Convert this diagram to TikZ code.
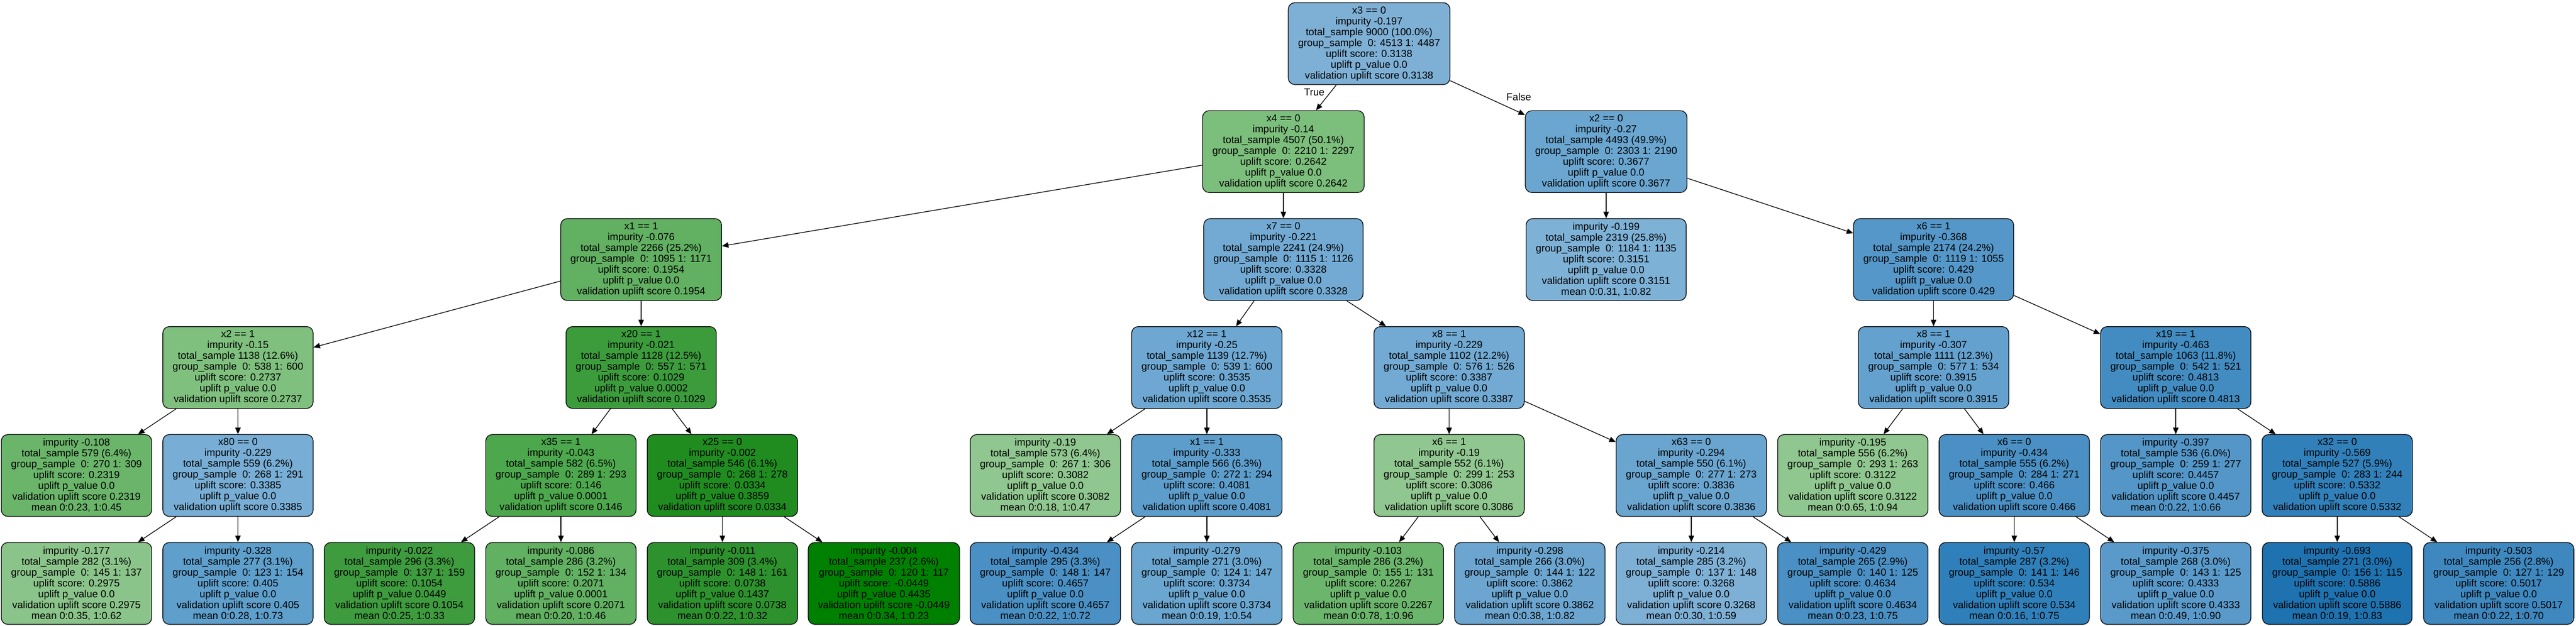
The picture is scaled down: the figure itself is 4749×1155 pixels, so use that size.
\documentclass[tikz,border=0pt]{standalone}
\usepackage{fontspec}
\setmainfont{Liberation Sans}
\usetikzlibrary{arrows.meta}
\newcommand{\itx}[7]{#1\\impurity #2\\total\_sample #3\\group\_sample\ \ 0: #4 1: #5\\uplift score: #6\\uplift p\_value #7\\validation uplift score #6}
\newcommand{\ltx}[7]{impurity #1\\total\_sample #2\\group\_sample\ \ 0: #3 1: #4\\uplift score: #5\\uplift p\_value #6\\validation uplift score #5\\mean #7}
\definecolor{c-r}{HTML}{7EB0D5}
\definecolor{c-x4}{HTML}{7CBE7B}
\definecolor{c-x2a}{HTML}{6AA6D0}
\definecolor{c-x1a}{HTML}{62B062}
\definecolor{c-x7}{HTML}{72AAD3}
\definecolor{c-l199}{HTML}{7EB1D6}
\definecolor{c-x6a}{HTML}{5597C8}
\definecolor{c-x2b}{HTML}{7FC07E}
\definecolor{c-x20}{HTML}{3C9C3C}
\definecolor{c-x12}{HTML}{6EA8D2}
\definecolor{c-x8a}{HTML}{72AAD3}
\definecolor{c-x8b}{HTML}{64A1CE}
\definecolor{c-x19}{HTML}{438CC1}
\definecolor{c-l108}{HTML}{6BB56B}
\definecolor{c-x80}{HTML}{78AED5}
\definecolor{c-x35}{HTML}{4DA84D}
\definecolor{c-x25}{HTML}{208C20}
\definecolor{c-l19}{HTML}{90C68F}
\definecolor{c-x1b}{HTML}{5D9DCB}
\definecolor{c-x6b}{HTML}{90C68F}
\definecolor{c-x63}{HTML}{6AA5D0}
\definecolor{c-l195}{HTML}{90C68F}
\definecolor{c-x6c}{HTML}{4A90C4}
\definecolor{c-l397}{HTML}{5496C7}
\definecolor{c-x32}{HTML}{3180BA}
\definecolor{c-l177}{HTML}{8BC48A}
\definecolor{c-l328}{HTML}{5E9FCC}
\definecolor{c-l022}{HTML}{3E9B3E}
\definecolor{c-l086}{HTML}{62B062}
\definecolor{c-l011}{HTML}{2D922D}
\definecolor{c-l004}{HTML}{008000}
\definecolor{c-l434}{HTML}{4A90C4}
\definecolor{c-l279}{HTML}{6AA6D0}
\definecolor{c-l103}{HTML}{6CB56C}
\definecolor{c-l298}{HTML}{6CA6D0}
\definecolor{c-l214}{HTML}{7EB0D6}
\definecolor{c-l429}{HTML}{4A90C4}
\definecolor{c-l57}{HTML}{2F80BA}
\definecolor{c-l375}{HTML}{5A9ACB}
\definecolor{c-l693}{HTML}{1E72B0}
\definecolor{c-l503}{HTML}{3E88BF}
\begin{document}
\begin{tikzpicture}[x=1pt,y=-1pt,
  box/.style={draw=black, line width=1.3pt, rounded corners=12pt, align=center,
    inner xsep=18pt, inner ysep=0pt, minimum height=151pt,
    font=\fontsize{18.67}{20}\selectfont},
  edge/.style={draw=black, line width=1.3pt, -{Triangle[length=12pt,width=10pt]}},
  lbl/.style={font=\fontsize{18.67}{20}\selectfont, inner sep=0pt}]
\useasboundingbox[fill=white] (0,0) rectangle (4749,1155);
% level 0
\node[box, fill=c-r] (r) at (2524,80.5) {\itx{x3 == 0}{-0.197}{9000 (100.0\%)}{4513}{4487}{0.3138}{0.0}};
% level 1
\node[box, fill=c-x4] (x4) at (2366,279.7) {\itx{x4 == 0}{-0.14}{4507 (50.1\%)}{2210}{2297}{0.2642}{0.0}};
\node[box, fill=c-x2a] (x2a) at (2961,279.7) {\itx{x2 == 0}{-0.27}{4493 (49.9\%)}{2303}{2190}{0.3677}{0.0}};
% level 2
\node[box, fill=c-x1a] (x1a) at (1182,478.9) {\itx{x1 == 1}{-0.076}{2266 (25.2\%)}{1095}{1171}{0.1954}{0.0}};
\node[box, fill=c-x7] (x7) at (2366,478.9) {\itx{x7 == 0}{-0.221}{2241 (24.9\%)}{1115}{1126}{0.3328}{0.0}};
\node[box, fill=c-l199] (l199) at (2961,478.9) {\ltx{-0.199}{2319 (25.8\%)}{1184}{1135}{0.3151}{0.0}{0:0.31, 1:0.82}};
\node[box, fill=c-x6a] (x6a) at (3564.6,478.9) {\itx{x6 == 1}{-0.368}{2174 (24.2\%)}{1119}{1055}{0.429}{0.0}};
% level 3
\node[box, fill=c-x2b] (x2b) at (438.7,678.1) {\itx{x2 == 1}{-0.15}{1138 (12.6\%)}{538}{600}{0.2737}{0.0}};
\node[box, fill=c-x20] (x20) at (1182,678.1) {\itx{x20 == 1}{-0.021}{1128 (12.5\%)}{557}{571}{0.1029}{0.0002}};
\node[box, fill=c-x12] (x12) at (2224.9,678.1) {\itx{x12 == 1}{-0.25}{1139 (12.7\%)}{539}{600}{0.3535}{0.0}};
\node[box, fill=c-x8a] (x8a) at (2671.5,678.1) {\itx{x8 == 1}{-0.229}{1102 (12.2\%)}{576}{526}{0.3387}{0.0}};
\node[box, fill=c-x8b] (x8b) at (3564.6,678.1) {\itx{x8 == 1}{-0.307}{1111 (12.3\%)}{577}{534}{0.3915}{0.0}};
\node[box, fill=c-x19] (x19) at (4011.1,678.1) {\itx{x19 == 1}{-0.463}{1063 (11.8\%)}{542}{521}{0.4813}{0.0}};
% level 4
\node[box, fill=c-l108] (l108) at (141,877.3) {\ltx{-0.108}{579 (6.4\%)}{270}{309}{0.2319}{0.0}{0:0.23, 1:0.45}};
\node[box, fill=c-x80] (x80) at (438.7,877.3) {\itx{x80 == 0}{-0.229}{559 (6.2\%)}{268}{291}{0.3385}{0.0}};
\node[box, fill=c-x35] (x35) at (1034.1,877.3) {\itx{x35 == 1}{-0.043}{582 (6.5\%)}{289}{293}{0.146}{0.0001}};
\node[box, fill=c-x25] (x25) at (1331.8,877.3) {\itx{x25 == 0}{-0.002}{546 (6.1\%)}{268}{278}{0.0334}{0.3859}};
\node[box, fill=c-l19] (l19) at (1927.2,877.3) {\ltx{-0.19}{573 (6.4\%)}{267}{306}{0.3082}{0.0}{0:0.18, 1:0.47}};
\node[box, fill=c-x1b] (x1b) at (2224.9,877.3) {\itx{x1 == 1}{-0.333}{566 (6.3\%)}{272}{294}{0.4081}{0.0}};
\node[box, fill=c-x6b] (x6b) at (2671.5,877.3) {\itx{x6 == 1}{-0.19}{552 (6.1\%)}{299}{253}{0.3086}{0.0}};
\node[box, fill=c-x63] (x63) at (3118,877.3) {\itx{x63 == 0}{-0.294}{550 (6.1\%)}{277}{273}{0.3836}{0.0}};
\node[box, fill=c-l195] (l195) at (3415.7,877.3) {\ltx{-0.195}{556 (6.2\%)}{293}{263}{0.3122}{0.0}{0:0.65, 1:0.94}};
\node[box, fill=c-x6c] (x6c) at (3713.4,877.3) {\itx{x6 == 0}{-0.434}{555 (6.2\%)}{284}{271}{0.466}{0.0}};
\node[box, fill=c-l397] (l397) at (4011.1,877.3) {\ltx{-0.397}{536 (6.0\%)}{259}{277}{0.4457}{0.0}{0:0.22, 1:0.66}};
\node[box, fill=c-x32] (x32) at (4308.8,877.3) {\itx{x32 == 0}{-0.569}{527 (5.9\%)}{283}{244}{0.5332}{0.0}};
% level 5
\node[box, fill=c-l177] (l177) at (141,1076.5) {\ltx{-0.177}{282 (3.1\%)}{145}{137}{0.2975}{0.0}{0:0.35, 1:0.62}};
\node[box, fill=c-l328] (l328) at (438.7,1076.5) {\ltx{-0.328}{277 (3.1\%)}{123}{154}{0.405}{0.0}{0:0.28, 1:0.73}};
\node[box, fill=c-l022] (l022) at (736.4,1076.5) {\ltx{-0.022}{296 (3.3\%)}{137}{159}{0.1054}{0.0449}{0:0.25, 1:0.33}};
\node[box, fill=c-l086] (l086) at (1034.1,1076.5) {\ltx{-0.086}{286 (3.2\%)}{152}{134}{0.2071}{0.0001}{0:0.20, 1:0.46}};
\node[box, fill=c-l011] (l011) at (1331.8,1076.5) {\ltx{-0.011}{309 (3.4\%)}{148}{161}{0.0738}{0.1437}{0:0.22, 1:0.32}};
\node[box, fill=c-l004] (l004) at (1629.5,1076.5) {\ltx{-0.004}{237 (2.6\%)}{120}{117}{-0.0449}{0.4435}{0:0.34, 1:0.23}};
\node[box, fill=c-l434] (l434) at (1927.2,1076.5) {\ltx{-0.434}{295 (3.3\%)}{148}{147}{0.4657}{0.0}{0:0.22, 1:0.72}};
\node[box, fill=c-l279] (l279) at (2224.9,1076.5) {\ltx{-0.279}{271 (3.0\%)}{124}{147}{0.3734}{0.0}{0:0.19, 1:0.54}};
\node[box, fill=c-l103] (l103) at (2522.6,1076.5) {\ltx{-0.103}{286 (3.2\%)}{155}{131}{0.2267}{0.0}{0:0.78, 1:0.96}};
\node[box, fill=c-l298] (l298) at (2820.3,1076.5) {\ltx{-0.298}{266 (3.0\%)}{144}{122}{0.3862}{0.0}{0:0.38, 1:0.82}};
\node[box, fill=c-l214] (l214) at (3118,1076.5) {\ltx{-0.214}{285 (3.2\%)}{137}{148}{0.3268}{0.0}{0:0.30, 1:0.59}};
\node[box, fill=c-l429] (l429) at (3415.7,1076.5) {\ltx{-0.429}{265 (2.9\%)}{140}{125}{0.4634}{0.0}{0:0.23, 1:0.75}};
\node[box, fill=c-l57] (l57) at (3713.4,1076.5) {\ltx{-0.57}{287 (3.2\%)}{141}{146}{0.534}{0.0}{0:0.16, 1:0.75}};
\node[box, fill=c-l375] (l375) at (4011.1,1076.5) {\ltx{-0.375}{268 (3.0\%)}{143}{125}{0.4333}{0.0}{0:0.49, 1:0.90}};
\node[box, fill=c-l693] (l693) at (4308.8,1076.5) {\ltx{-0.693}{271 (3.0\%)}{156}{115}{0.5886}{0.0}{0:0.19, 1:0.83}};
\node[box, fill=c-l503] (l503) at (4606.5,1076.5) {\ltx{-0.503}{256 (2.8\%)}{127}{129}{0.5017}{0.0}{0:0.22, 1:0.70}};
% labels
\node[lbl] (tTrue) at (2423,170) {True};
\node[lbl] (tFalse) at (2800,179) {False};
% edges
\draw[edge] (r) -- (x4);
\draw[edge] (r) -- (x2a);
\draw[edge] (x4) -- (x1a);
\draw[edge] (x4) -- (x7);
\draw[edge] (x2a) -- (l199);
\draw[edge] (x2a) -- (x6a);
\draw[edge] (x1a) -- (x2b);
\draw[edge] (x1a) -- (x20);
\draw[edge] (x7) -- (x12);
\draw[edge] (x7) -- (x8a);
\draw[edge] (x6a) -- (x8b);
\draw[edge] (x6a) -- (x19);
\draw[edge] (x2b) -- (l108);
\draw[edge] (x2b) -- (x80);
\draw[edge] (x20) -- (x35);
\draw[edge] (x20) -- (x25);
\draw[edge] (x12) -- (l19);
\draw[edge] (x12) -- (x1b);
\draw[edge] (x8a) -- (x6b);
\draw[edge] (x8a) -- (x63);
\draw[edge] (x8b) -- (l195);
\draw[edge] (x8b) -- (x6c);
\draw[edge] (x19) -- (l397);
\draw[edge] (x19) -- (x32);
\draw[edge] (x80) -- (l177);
\draw[edge] (x80) -- (l328);
\draw[edge] (x35) -- (l022);
\draw[edge] (x35) -- (l086);
\draw[edge] (x25) -- (l011);
\draw[edge] (x25) -- (l004);
\draw[edge] (x1b) -- (l434);
\draw[edge] (x1b) -- (l279);
\draw[edge] (x6b) -- (l103);
\draw[edge] (x6b) -- (l298);
\draw[edge] (x63) -- (l214);
\draw[edge] (x63) -- (l429);
\draw[edge] (x6c) -- (l57);
\draw[edge] (x6c) -- (l375);
\draw[edge] (x32) -- (l693);
\draw[edge] (x32) -- (l503);
\end{tikzpicture}
\end{document}
